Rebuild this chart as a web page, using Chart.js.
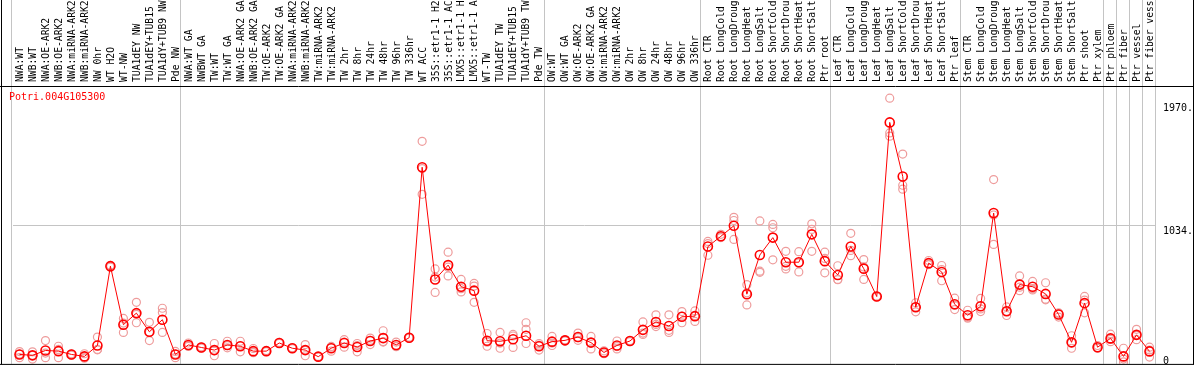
<!DOCTYPE html>
<html>
<head>
<meta charset="utf-8">
<script src="https://cdn.jsdelivr.net/npm/chart.js@4.4.1/dist/chart.umd.min.js"></script>
<style>
html, body { margin: 0; padding: 0; background: #fff; }
canvas { display: block; }
</style>
</head>
<body>
<canvas id="expr" width="1194" height="370"></canvas>
<script>
var geneName = 'Potri.004G105300';

var sampleLabels = [
    'NWA:WT', 'NWB:WT', 'NWA:OE-ARK2', 'NWB:OE-ARK2', 'NWA:miRNA-ARK2', 'NWB:miRNA-ARK2',
    'NW 0hr', 'WT H2O', 'WT-NW', 'TUA1dEY NW', 'TUA1dEY+TUB15', 'TUA1dY+TUB9 NW', 'Pde NW',
    'NWA:WT GA', 'NWBWT GA', 'TW:WT', 'TW:WT GA', 'NWA:OE-ARK2 GA', 'NWB:OE-ARK2 GA',
    'TW:OE-ARK2', 'TW:OE-ARK2 GA', 'NWA:miRNA-ARK2', 'NWB:miRNA-ARK2', 'TW:miRNA-ARK2',
    'TW:miRNA-ARK2', 'TW 2hr', 'TW 8hr', 'TW 24hr', 'TW 48hr', 'TW 96hr', 'TW 336hr',
    'WT ACC', '35S::etr1-1 H2', '35S::etr1-1 AC', 'LMX5::etr1-1 H', 'LMX5::etr1-1 A',
    'WT-TW', 'TUA1dEY TW', 'TUA1dEY+TUB15', 'TUA1dY+TUB9 TW', 'Pde TW',
    'OW:WT', 'OW:WT GA', 'OW:OE-ARK2', 'OW:OE-ARK2 GA', 'OW:miRNA-ARK2', 'OW:miRNA-ARK2',
    'OW 2hr', 'OW 8hr', 'OW 24hr', 'OW 48hr', 'OW 96hr', 'OW 336hr',
    'Root CTR', 'Root LongCold', 'Root LongDroug', 'Root LongHeat', 'Root LongSalt',
    'Root ShortCold', 'Root ShortDrou', 'Root ShortHeat', 'Root ShortSalt', 'Ptr root',
    'Leaf CTR', 'Leaf LongCold', 'Leaf LongDroug', 'Leaf LongHeat', 'Leaf LongSalt',
    'Leaf ShortCold', 'Leaf ShortDrou', 'Leaf ShortHeat', 'Leaf ShortSalt', 'Ptr leaf',
    'Stem CTR', 'Stem LongCold', 'Stem LongDroug', 'Stem LongHeat', 'Stem LongSalt',
    'Stem ShortCold', 'Stem ShortDrou', 'Stem ShortHeat', 'Stem ShortSalt', 'Ptr shoot',
    'Ptr xylem', 'Ptr phloem', 'Ptr fiber', 'Ptr vessel', 'Ptr fiber vess'
];

// index of the first sample of each group (grey separators)
var groupStarts = [0, 13, 41, 53, 63, 73, 84, 85, 86, 87];

var meanValues = [
    57, 50, 87, 82, 57, 42, 125, 728, 283, 371, 229, 321, 57,
    129, 110, 90, 129, 119, 82, 82, 144, 104, 90, 40, 104, 144, 114, 159, 181, 129, 184,
    1480, 627, 736, 572, 542, 161, 157, 172, 199, 119,
    154, 164, 189, 147, 72, 125, 159, 244, 304, 273, 343, 348,
    877, 955, 1035, 515, 813, 945, 758, 758, 970, 766,
    661, 878, 709, 497, 1821, 1410, 416, 751, 684, 438,
    355, 423, 1132, 385, 588, 572, 517, 361, 149, 447, 112,
    179, 42, 206, 80
];

var rep1 = [
    32, 77, 162, 119, 57, 62, 189, 729, 331, 453, 301, 408, 32,
    144, 110, 140, 157, 157, 102, 82, 144, 104, 132, 40, 82, 169, 140, 181, 237, 151, 184,
    1677, 707, 834, 627, 597, 216, 224, 209, 298, 90,
    194, 164, 219, 194, 84, 159, 159, 304, 358, 358, 383, 388,
    916, 970, 1099, 587, 1072, 1045, 841, 838, 1050, 834,
    731, 978, 778, 498, 2005, 1580, 381, 771, 733, 485,
    393, 483, 1386, 418, 654, 612, 602, 373, 199, 498, 125,
    211, 104, 248, 112
];

var rep2 = [
    60, 22, 32, 32, 52, 28, 95, 720, 224, 298, 162, 375, 60,
    125, 105, 47, 107, 77, 70, 78, 140, 100, 47, 38, 112, 112, 77, 132, 151, 120, 180,
    1274, 528, 654, 532, 453, 119, 104, 110, 248, 140,
    125, 160, 164, 99, 62, 99, 155, 209, 269, 224, 298, 308,
    811, 945, 931, 433, 681, 1020, 707, 684, 1007, 677,
    627, 808, 627, 495, 1741, 1343, 450, 740, 617, 398,
    340, 383, 893, 353, 542, 547, 472, 341, 104, 373, 105,
    154, 0, 169, 37
];

var rep3 = [
    79, 50, 67, 95, 62, 37, 92, 735, 296, 362, 224, 224, 80,
    118, 115, 85, 124, 123, 75, 86, 148, 108, 90, 42, 118, 150, 125, 164, 155, 116, 188,
    1470, 645, 720, 557, 577, 150, 143, 197, 140, 127,
    143, 168, 184, 148, 70, 117, 163, 219, 285, 240, 348, 350,
    900, 950, 1075, 525, 690, 776, 727, 752, 841, 787,
    625, 848, 722, 500, 1716, 1313, 418, 742, 702, 430,
    333, 403, 1117, 385, 568, 557, 477, 368, 144, 470, 106,
    172, 22, 204, 90
];

var yTickValues = [0, 1034, 1970];
var yTickLabels = ['0', '1034.', '1970.'];

var monoFont = '"DejaVu Sans Mono", "Liberation Mono", monospace';

function repSet(values) {
    return {
        data: values,
        showLine: false,
        pointRadius: 4,
        pointBorderWidth: 1.2,
        pointBorderColor: '#ee9c9c',
        pointBackgroundColor: 'rgba(0,0,0,0)',
        pointHoverRadius: 4
    };
}

var framePlugin = {
    id: 'frame',
    beforeDatasetsDraw: function(chart) {
        var ctx = chart.ctx, x = chart.scales.x, area = chart.chartArea;
        var step = x.getPixelForValue(1) - x.getPixelForValue(0);
        ctx.save();
        ctx.strokeStyle = '#c4c4c4';
        ctx.lineWidth = 1;
        groupStarts.concat([sampleLabels.length]).forEach(function(k) {
            var px = Math.round(x.getPixelForValue(0) + (k - 0.5) * step - 1.5) + 0.5;
            ctx.beginPath();
            ctx.moveTo(px, 0);
            ctx.lineTo(px, area.bottom);
            ctx.stroke();
        });
        ctx.restore();
    },
    afterDraw: function(chart) {
        var ctx = chart.ctx, area = chart.chartArea;
        var w = chart.width;
        ctx.save();
        ctx.strokeStyle = '#000';
        ctx.lineWidth = 1;
        ctx.beginPath();
        ctx.moveTo(1.5, 0); ctx.lineTo(1.5, area.bottom + 0.5);
        ctx.moveTo(w - 0.5, 0); ctx.lineTo(w - 0.5, area.bottom + 0.5);
        ctx.moveTo(0, area.top - 0.5); ctx.lineTo(w, area.top - 0.5);
        ctx.moveTo(0, area.bottom + 0.5); ctx.lineTo(w, area.bottom + 0.5);
        ctx.stroke();
        ctx.fillStyle = '#ff0000';
        ctx.font = '10px ' + monoFont;
        ctx.textBaseline = 'top';
        ctx.fillText(geneName, 9, area.top + 5);
        ctx.restore();
    }
};

var ctx = document.getElementById('expr').getContext('2d');
window.exprChart = new Chart(ctx, {
    type: 'line',
    data: {
        labels: sampleLabels,
        datasets: [
            {
                data: meanValues,
                borderColor: '#ff0000',
                borderWidth: 1,
                tension: 0,
                pointRadius: 4.5,
                pointBorderWidth: 1.6,
                pointBorderColor: '#ff0000',
                pointBackgroundColor: 'rgba(0,0,0,0)'
            },
            repSet(rep1),
            repSet(rep2),
            repSet(rep3)
        ]
    },
    options: {
        responsive: false,
        animation: false,
        devicePixelRatio: 1,
        layout: { padding: { left: 13, right: 0, top: 0, bottom: 1 } },
        plugins: {
            legend: { display: false },
            title: { display: false },
            tooltip: { enabled: false }
        },
        scales: {
            x: {
                type: 'category',
                position: 'top',
                offset: true,
                afterFit: function(scale) {
                    scale.height = 87;
                    scale.paddingLeft = 0;
                    scale.paddingRight = 0;
                },
                grid: { display: false, drawTicks: false },
                border: { display: false },
                ticks: {
                    autoSkip: false,
                    minRotation: 90,
                    maxRotation: 90,
                    padding: 5,
                    labelOffset: 12.5,
                    color: '#000',
                    font: { family: monoFont, size: 9.7 }
                }
            },
            y: {
                position: 'right',
                min: -15,
                max: 2090,
                afterFit: function(scale) {
                    scale.width = 38;
                    scale.paddingTop = 0;
                    scale.paddingBottom = 0;
                },
                afterBuildTicks: function(scale) {
                    scale.ticks = yTickValues.map(function(v) { return { value: v }; });
                },
                grid: {
                    drawTicks: false,
                    color: function(c) { return c.tick && c.tick.value === 1034 ? '#c4c4c4' : 'rgba(0,0,0,0)'; }
                },
                border: { display: false },
                ticks: {
                    padding: 7,
                    color: '#000',
                    font: { family: monoFont, size: 10 },
                    labelOffset: 5.5,
                    // the bottom label sits above the zero line, so pad it with an empty line
                    callback: function(value, i) {
                        return i === 0 ? [yTickLabels[i], ''] : yTickLabels[i];
                    }
                }
            }
        }
    },
    plugins: [framePlugin]
});
</script>
</body>
</html>
